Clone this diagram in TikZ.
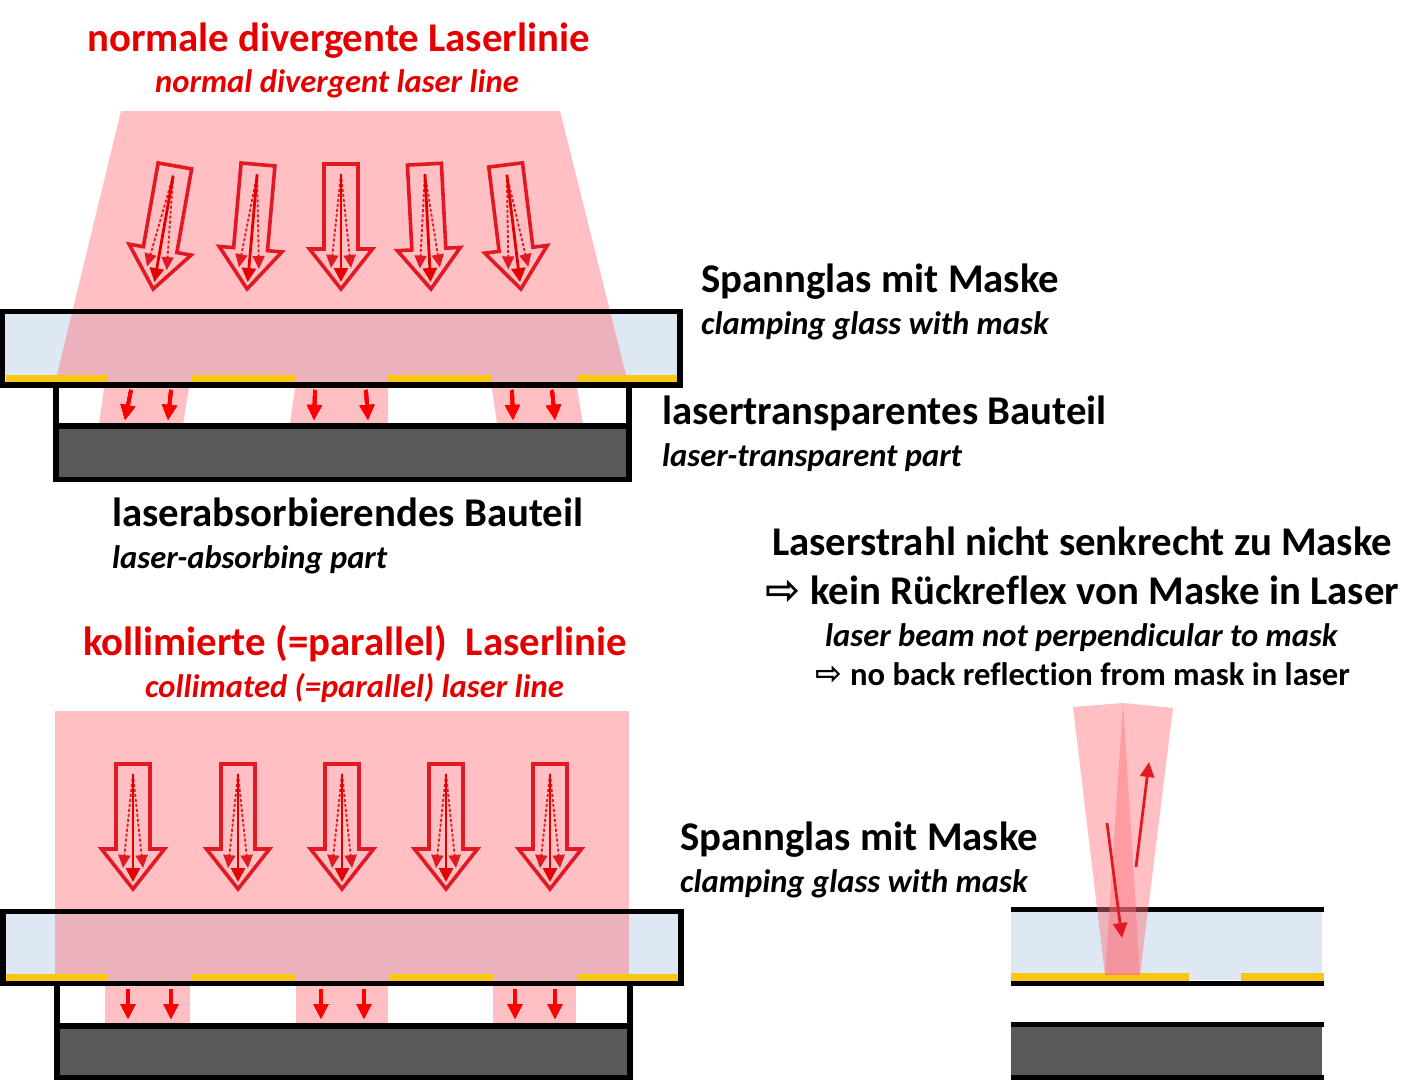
\documentclass[tikz,border=0pt]{standalone}
\usepackage{fontspec}
\setmainfont{Carlito}[Ligatures=NoCommon]
\newfontfamily\symfont{DejaVu Sans}
\usetikzlibrary{arrows.meta}
\definecolor{beamred}{RGB}{255,113,122}
\definecolor{glassblue}{RGB}{222,232,244}
\definecolor{maskyellow}{RGB}{250,200,20}
\definecolor{partgrey}{RGB}{89,89,89}
\definecolor{arrowred}{RGB}{225,25,35}
\tikzstyle{beam}=[fill=beamred,fill opacity=.45,draw=none]
\tikzstyle{glass}=[fill=glassblue,draw=none]
\tikzstyle{mask}=[fill=maskyellow,draw=none]
\tikzstyle{frame}=[draw=black,line width=5.5pt,line join=miter]
\tikzstyle{part}=[fill=partgrey,draw=none]
\tikzstyle{ray}=[-{Triangle[width=14pt,length=14pt]},red!90!black,line width=2.8pt]
\tikzstyle{sideray}=[-{Triangle[width=12pt,length=13pt]},arrowred,line width=1.8pt,densely dashed]
\tikzstyle{small}=[-{Triangle[width=14pt,length=15pt]},red,line width=3.6pt]
\tikzstyle{tilted}=[-{Triangle[width=14pt,length=15pt]},arrowred,line width=2.8pt]
\tikzstyle{big}=[inner sep=0,anchor=base west,yshift=-1.2pt,font=\fontsize{40.8}{44}\selectfont\bfseries]
\tikzstyle{sub}=[inner sep=0,anchor=base west,yshift=-1pt,font=\fontsize{32.6}{36}\selectfont\bfseries\itshape]
\tikzstyle{plainsub}=[inner sep=0,anchor=base west,font=\fontsize{32.6}{36}\selectfont\bfseries]
\newcommand{\hollowarrow}[3]{%
  \begin{scope}[shift={(#1,#2)},rotate=#3]
    \draw[arrowred,line width=3.6pt,line join=miter] (0,-1) -- (31.5,-41) -- (17,-41) -- (17,-126) -- (-17,-126) -- (-17,-41) -- (-31.5,-41) -- cycle;
    \draw[sideray] (0,-116) -- (-10,-22);
    \draw[sideray] (0,-116) -- (10,-22);
    \draw[ray] (0,-116) -- (0,-8);
  \end{scope}}
\begin{document}
\begin{tikzpicture}[x=1pt,y=-1pt]
  \useasboundingbox (0,0) rectangle (1425,1080);

  % upper picture
  \fill[glass] (3,312) rectangle (680,383);
  \fill[beam] (121,111) -- (560,111) -- (628,383) -- (55,383) -- cycle;
  \foreach \xa/\xb in {6/107,191/295,388/492,577/678}
    \fill[mask] (\xa,375) rectangle (\xb,382);
  \fill[beam] (104,388) -- (189,388) -- (183,424) -- (99,424) -- cycle;
  \fill[beam] (295,388) -- (388,388) -- (388,424) -- (290,424) -- cycle;
  \fill[beam] (492,388) -- (577,388) -- (583,424) -- (497,424) -- cycle;
  \fill[part] (56,426) rectangle (629,479);
  \draw[frame] (56,385) -- (56,479.5) -- (629,479.5) -- (629,385);
  \draw[frame] (56,426) -- (629,426);
  \draw[frame] (2.5,311.5) rectangle (680,385);
  \foreach \xt/\rot in {153/-10,247/-5,341/0,431/3,521/7}
    \hollowarrow{\xt}{290}{\rot}
  \foreach \xa/\xb in {131/125,171/168,315/314,366/368,512/513,552/555}
    \draw[small] (\xa,390) -- (\xb,420);

  % lower picture
  \fill[glass] (3,912) rectangle (680,981);
  \fill[beam] (55,711) -- (629,711) -- (629,981) -- (55,981) -- cycle;
  \foreach \xa/\xb in {6/107,191/296,389/493,577/678}
    \fill[mask] (\xa,974) rectangle (\xb,981);
  \fill[beam] (105,986) rectangle (190,1024);
  \fill[beam] (296,986) rectangle (388,1024);
  \fill[beam] (493,986) rectangle (576,1024);
  \fill[part] (57,1026) rectangle (630,1078);
  \draw[frame] (57,984) -- (57,1077.5) -- (630,1077.5) -- (630,984);
  \draw[frame] (57,1026) -- (630,1026);
  \draw[frame] (3,911.5) rectangle (681,983.5);
  \foreach \xt in {133,238,342,446,550}
    \hollowarrow{\xt}{890}{0}
  \foreach \xa/\xb in {128/128,171/171,321/321,364/364,515/515,555/555}
    \draw[small] (\xa,989) -- (\xb,1019);

  % right picture
  \fill[glass] (1011,912) rectangle (1322,980);
  \fill[part] (1011,1027) rectangle (1322,1075);
  \fill[black] (1011,907) rectangle (1324,912);
  \fill[mask] (1011,973) rectangle (1189,981);
  \fill[mask] (1241,973) rectangle (1324,981);
  \fill[black] (1011,981) rectangle (1324,986);
  \fill[black] (1011,1022) rectangle (1324,1027);
  \fill[black] (1011,1075) rectangle (1324,1080);
  \fill[beam] (1073,707) -- (1123,703) -- (1140,975) -- (1105,975) -- cycle;
  \fill[beam] (1123,703) -- (1173,708) -- (1140,975) -- (1105,975) -- cycle;
  \draw[tilted] (1107,823) -- (1122,938);
  \draw[tilted] (1136,867) -- (1149,762);

  % labels
  \node[big,red!90!black] (titleA) at (87,50) {normale divergente Laserlinie};
  \node[sub,red!90!black] (subA) at (155,91) {normal divergent laser line};
  \node[big] (glassA) at (701,291) {Spannglas mit Maske};
  \node[sub] (glassAen) at (701,333) {clamping glass with mask};
  \node[big] (transp) at (662,423) {lasertransparentes Bauteil};
  \node[sub] (transpen) at (662,465) {laser-transparent part};
  \node[big] (absorb) at (112,525) {laserabsorbierendes Bauteil};
  \node[sub] (absorben) at (112,567) {laser-absorbing part};
  \node[big,red!90!black] (titleB) at (83,654) {kollimierte (=parallel)\ \ Laserlinie};
  \node[sub,red!90!black] (subB) at (145,696) {collimated (=parallel) laser line};
  \node[big] (glassB) at (680,849) {Spannglas mit Maske};
  \node[sub] (glassBen) at (680,891) {clamping glass with mask};
  \node[big] (noteA) at (772,554) {Laserstrahl nicht senkrecht zu Maske};
  \node[big] (arrowA) at (765,603) {{\symfont\fontsize{42}{44}\selectfont\bfseries ⇨}};
  \node[big] (noteB) at (810,603) {kein Rückreflex von Maske in Laser};
  \node[sub] (noteC) at (825,645) {laser beam not perpendicular to mask};
  \node[plainsub] (arrowB) at (815,684) {{\symfont\fontsize{32}{34}\selectfont\bfseries ⇨}};
  \node[plainsub] (noteD) at (850,685) {no back reflection from mask in laser};
\end{tikzpicture}
\end{document}
